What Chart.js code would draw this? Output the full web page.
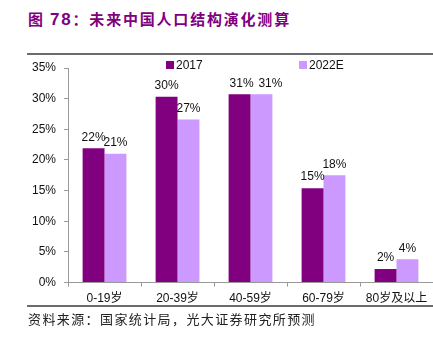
<!DOCTYPE html>
<html>
<head>
<meta charset="utf-8">
<script src="https://cdn.jsdelivr.net/npm/chart.js@4.4.0/dist/chart.umd.min.js"></script>
<style>
    body { margin: 0; background: #fff; }
    #wrap { position: relative; width: 433px; height: 337px; }
    #title { position: absolute; left: 28px; top: 8px; font: bold 15px "Noto Sans CJK SC", sans-serif; color: #800080; letter-spacing: 1.8px; white-space: nowrap; }
    #title b { font-family: "Liberation Sans", Arial, sans-serif; font-size: 17px; }
    .rule { position: absolute; left: 27px; width: 406px; height: 2px; background: #6b6b6b; }
    #source { position: absolute; left: 28px; top: 309px; font: 13px "Noto Sans CJK SC", sans-serif; color: #222; letter-spacing: 1.4px; white-space: nowrap; }
    canvas { position: absolute; left: 0; top: 0; }
</style>
</head>
<body>
<div id="wrap">
    <div id="title">图 <b>78</b>：未来中国人口结构演化测算</div>
    <div class="rule" style="top:53px"></div>
    <canvas id="popChart" width="433" height="337"></canvas>
    <div class="rule" style="top:305px"></div>
    <div id="source">资料来源：国家统计局，光大证券研究所预测</div>
</div>
<script>
var ageGroups = ['0-19岁', '20-39岁', '40-59岁', '60-79岁', '80岁及以上'];
var share2017 = [21.9, 30.3, 30.7, 15.4, 2.2];
var share2022 = [21.0, 26.6, 30.7, 17.5, 3.8];
var seriesNames = ['2017', '2022E'];
var yTicks = [0, 5, 10, 15, 20, 25, 30, 35];

var latin = '"Liberation Sans", Arial, "Noto Sans CJK SC", sans-serif';

// rótulos de valor acima das barras
var valueLabels = {
    id: 'valueLabels',
    afterDatasetsDraw: function (chart) {
        var ctx = chart.ctx;
        ctx.save();
        ctx.font = '12px ' + latin;
        ctx.fillStyle = '#111';
        ctx.textAlign = 'center';
        ctx.textBaseline = 'bottom';
        chart.data.datasets.forEach(function (ds, i) {
            chart.getDatasetMeta(i).data.forEach(function (bar, j) {
                var dx = 0;
                // no original o rótulo do 2022E em 40-59 foi afastado para a direita
                if (i === 1 && j === 2) dx = 9;
                if (i === 0 && j === 2) dx = 2;
                ctx.fillText(Math.round(ds.data[j]) + '%', bar.x + dx, bar.y - 5);
            });
        });
        ctx.restore();
    }
};

// legenda desenhada à mão, dentro da área do gráfico
var legendBoxes = {
    id: 'legendBoxes',
    afterDraw: function (chart) {
        var ctx = chart.ctx;
        var spots = [166, 299];
        ctx.save();
        ctx.font = '12px ' + latin;
        ctx.textBaseline = 'middle';
        chart.data.datasets.forEach(function (ds, i) {
            ctx.fillStyle = ds.backgroundColor;
            ctx.fillRect(spots[i], 61, 8, 8);
            ctx.fillStyle = '#111';
            ctx.fillText(ds.label, spots[i] + 10, 65.5);
        });
        ctx.restore();
    }
};

var ctx = document.getElementById('popChart').getContext('2d');
var chart = new Chart(ctx, {
    type: 'bar',
    data: {
        labels: ageGroups,
        datasets: [{
            label: seriesNames[0],
            data: share2017,
            backgroundColor: '#800080',
            barPercentage: 1,
            categoryPercentage: 0.6
        },
        {
            label: seriesNames[1],
            data: share2022,
            backgroundColor: '#cc99ff',
            barPercentage: 1,
            categoryPercentage: 0.6
        }]
    },
    options: {
        responsive: false,
        animation: false,
        layout: { padding: { top: 68, right: 0, bottom: 26, left: 24 } },
        plugins: {
            legend: { display: false },
            tooltip: { enabled: false }
        },
        scales: {
            x: {
                grid: { drawOnChartArea: false, tickLength: 4, color: '#999', offset: true },
                border: { color: '#999' },
                ticks: { color: '#111', font: { size: 12, family: latin }, padding: 5 }
            },
            y: {
                min: 0,
                max: 35,
                afterBuildTicks: function (axis) {
                    axis.ticks = yTicks.map(function (v) { return { value: v }; });
                },
                grid: { drawOnChartArea: false, tickLength: 4, color: '#999' },
                border: { color: '#999' },
                ticks: {
                    color: '#111',
                    font: { size: 12, family: latin },
                    padding: 8,
                    callback: function (v) { return v + '%'; }
                }
            }
        }
    },
    plugins: [valueLabels, legendBoxes]
});
</script>
</body>
</html>
